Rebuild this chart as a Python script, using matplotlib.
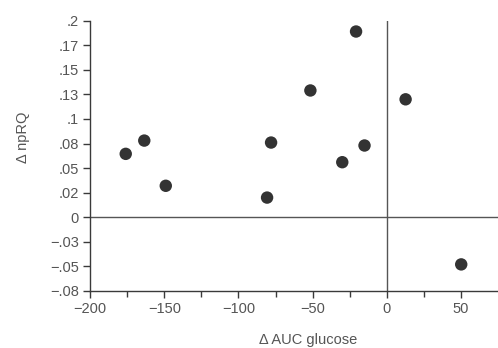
import numpy as np
import matplotlib.pyplot as plt

plt.rcParams['font.family'] = ['Liberation Sans', 'DejaVu Sans']

# data
auc_glucose = [-176, -163.5, -149, -78, -80.7, -51.5, -20.7, -30, -15, 12.7, 50.2]
np_rq = [0.0645, 0.078, 0.032, 0.076, 0.020, 0.129, 0.189, 0.056, 0.073, 0.120, -0.048]

yticks = [-0.075, -0.05, -0.025, 0, 0.025, 0.05, 0.075, 0.1, 0.125, 0.15, 0.175, 0.2]
ytick_labels = ["\u2212.08", "\u2212.05", "\u2212.03", "0", ".02", ".05", ".08", ".1", ".13", ".15", ".17", ".2"]
xticks = [-200, -150, -100, -50, 0, 50]
xminor = [-175, -125, -75, -25, 25]

ink = "#3a3a3a"
txt = "#555555"

fig = plt.figure(figsize=(4.98, 3.48), dpi=100)
ax = fig.add_axes([0.181, 0.164, 0.819, 0.7765])

ax.axhline(0, color="#555555", lw=1.0, zorder=1)
ax.axvline(0, color="#555555", lw=1.0, zorder=1)
ax.scatter(auc_glucose, np_rq, s=80, color="#333333", edgecolors="none", zorder=3)

ax.set_xlim(-200, 75)
ax.set_ylim(-0.075, 0.2)
ax.set_xticks(xticks)
ax.set_xticklabels([str(t).replace("-", "\u2212") for t in xticks])
ax.set_xticks(xminor, minor=True)
ax.set_yticks(yticks)
ax.set_yticklabels(ytick_labels)

for s in ["top", "right"]:
    ax.spines[s].set_visible(False)
for s in ["left", "bottom"]:
    ax.spines[s].set_color(ink)
    ax.spines[s].set_linewidth(1.0)

ax.tick_params(which="both", direction="out", color=ink, width=1.0, labelcolor=txt, labelsize=10.5)
ax.tick_params(which="major", length=5, pad=3)
ax.tick_params(which="minor", length=4)

ax.set_xlabel("\u0394 AUC glucose", fontsize=10.5, color=txt)
ax.xaxis.set_label_coords(0.534, -0.155)
ax.set_ylabel("\u0394 npRQ", fontsize=10.5, color=txt)
ax.yaxis.set_label_coords(-0.148, 0.57)

fig.savefig("out.png", dpi=100)
